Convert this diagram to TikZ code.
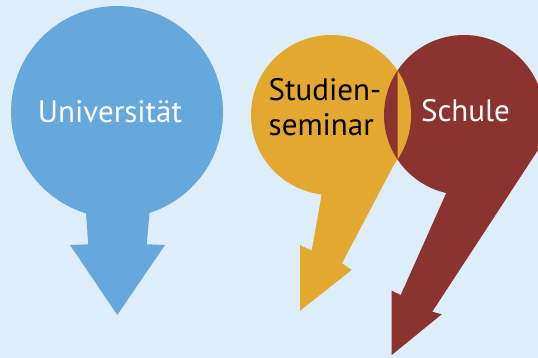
\documentclass[tikz,border=0pt]{standalone}
\usepackage{fontspec}
\setmainfont{PT Sans}
\definecolor{paleblue}{RGB}{221,237,250}
\definecolor{unisky}{RGB}{103,168,220}
\definecolor{seminargold}{RGB}{226,168,48}
\definecolor{schoolred}{RGB}{139,51,46}

\tikzset{
  bubble text/.style={font=\fontsize{31}{35.3}\selectfont,inner sep=0pt},
}

\begin{document}
\begin{tikzpicture}[x=1pt,y=-1pt]
  % panel behind everything, it also fixes the page size
  \fill[paleblue] (0,0) rectangle (538,358);
  \useasboundingbox (0,0) rectangle (538,358);

  % Universitaet: round bubble with a straight arrow pointing down
  \fill[unisky] (117,112) circle (106pt);
  \fill[unisky] (85,200) -- (88.3,244.3) -- (70,245) -- (117.3,315)
    -- (165,245) -- (146.7,244.3) -- (150.7,200) -- cycle;

  % Studienseminar: bubble with a slanted tail
  \fill[seminargold] (331,115) circle (80pt);
  \fill[seminargold] (326,170) -- (311.7,250.7) -- (300,245) -- (300,310.7)
    -- (351.7,270) -- (342,263.3) -- (397.3,158.3) -- cycle;

  % Schule: bubble with the long tail
  \fill[schoolred] (464,115) circle (80pt);
  \fill[schoolred] (461,160) -- (400.7,295) -- (391.7,290.7) -- (391.7,355)
    -- (441.7,314.3) -- (432.3,311.7) -- (540,147) -- cycle;

  % right half of the overlap goes back to gold
  \begin{scope}
    \clip (397.5,0) rectangle (538,358);
    \fill[seminargold] (331,115) circle (80pt);
  \end{scope}

  \node[bubble text,text=white,anchor=base] (uni) at (110,123) {Universität};
  \node[bubble text,align=left,anchor=base west] (seminar) at (268.5,136) {Studien-\\seminar};
  \node[bubble text,text=white,anchor=base] (school) at (465.5,121.7) {Schule};
\end{tikzpicture}
\end{document}
